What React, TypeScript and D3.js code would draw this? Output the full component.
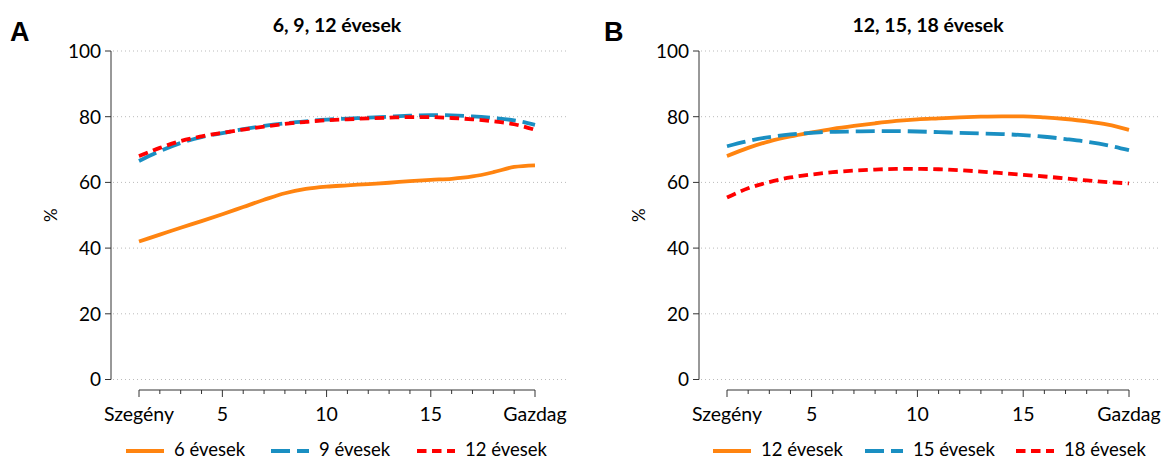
import React from "react";
import * as d3 from "d3";

const groups = [1, 2, 3, 4, 5, 6, 7, 8, 9, 10, 11, 12, 13, 14, 15, 16, 17, 18, 19, 20];
const xTickValues = [1, 5, 10, 15, 20];
const xTickLabels = ["Szegény", "5", "10", "15", "Gazdag"];
const yTicks = [0, 20, 40, 60, 80, 100];

// Panel A
const a6 = [42, 44.1, 46.2, 48.2, 50.3, 52.5, 54.7, 56.7, 58, 58.7, 59.1, 59.5, 59.9, 60.4, 60.8, 61.1, 61.8, 63.1, 64.7, 65.2];
const a9 = [66.5, 69.5, 72, 73.8, 75, 76.2, 77.2, 78, 78.6, 79.1, 79.4, 79.7, 80, 80.3, 80.5, 80.4, 80.1, 79.6, 78.9, 77.5];
const a12 = [68, 70.5, 72.6, 74, 75.1, 76.1, 77, 77.8, 78.4, 78.9, 79.2, 79.5, 79.7, 79.9, 79.9, 79.6, 79.2, 78.6, 77.7, 76];
// Panel B
const b12 = [68, 70.5, 72.5, 74, 75.2, 76.3, 77.2, 78, 78.7, 79.2, 79.5, 79.8, 80, 80.1, 80.1, 79.8, 79.3, 78.6, 77.6, 76];
const b15 = [71, 72.6, 73.8, 74.6, 75.1, 75.4, 75.5, 75.6, 75.6, 75.5, 75.3, 75.1, 74.9, 74.7, 74.4, 73.9, 73.2, 72.4, 71.3, 69.8];
const b18 = [55.4, 58.2, 60.1, 61.5, 62.4, 63.1, 63.6, 63.9, 64.1, 64.1, 64, 63.7, 63.3, 62.8, 62.3, 61.8, 61.2, 60.6, 60.1, 59.7];

const ORANGE = "#ff8410";
const BLUE = "#1a8fc2";
const RED = "#ff0000";

type Series = { name: string; values: number[]; color: string; dash: string | null };

const panelA: Series[] = [
  { name: "6 évesek", values: a6, color: ORANGE, dash: null },
  { name: "9 évesek", values: a9, color: BLUE, dash: "19 7" },
  { name: "12 évesek", values: a12, color: RED, dash: "9.5 5.5" },
];
const panelB: Series[] = [
  { name: "12 évesek", values: b12, color: ORANGE, dash: null },
  { name: "15 évesek", values: b15, color: BLUE, dash: "19 7" },
  { name: "18 évesek", values: b18, color: RED, dash: "9.5 5.5" },
];

const FONT = "Lato, 'Open Sans', sans-serif";

type PanelProps = {
  letter: string;
  title: string;
  series: Series[];
  axisX: number;
  x0: number;
  x1: number;
  gridEnd: number;
  letterX: number;
  legendLineX: number[];
};

function Panel({ letter, title, series, axisX, x0, x1, gridEnd, letterX, legendLineX }: PanelProps) {
  const x = d3.scaleLinear().domain([1, 20]).range([x0, x1]);
  const y = d3.scaleLinear().domain([0, 100]).range([379.5, 51]);
  const line = d3
    .line<number>()
    .x((_, i) => x(groups[i]))
    .y((d) => y(d))
    .curve(d3.curveMonotoneX);
  const axisY = 390;
  return (
    <g>
      <text x={letterX} y={41} fontFamily="Arial, 'Liberation Sans', sans-serif" fontWeight="bold" fontSize={27} fill="#000">
        {letter}
      </text>
      <text x={(x0 + x1) / 2} y={32} textAnchor="middle" fontFamily={FONT} fontWeight="bold" fontSize={19.5} fill="#000">
        {title}
      </text>
      {yTicks.map((t) => (
        <g key={t}>
          <line x1={axisX + 2} x2={gridEnd} y1={y(t)} y2={y(t)} stroke="#bbb" strokeWidth={1} strokeDasharray="1 3" />
          <line x1={axisX - 6} x2={axisX} y1={y(t)} y2={y(t)} stroke="#333" strokeWidth={1} />
          <text x={axisX - 10} y={y(t)} dy="0.36em" textAnchor="end" fontFamily={FONT} fontSize={19} fill="#000">
            {t}
          </text>
        </g>
      ))}
      <line x1={axisX} x2={axisX} y1={y(100)} y2={y(0)} stroke="#333" strokeWidth={1} />
      <text
        transform={`translate(${axisX - 60},${y(50)}) rotate(-90)`}
        textAnchor="middle"
        dy="0.35em"
        fontFamily={FONT}
        fontSize={17}
        fill="#000"
      >
        %
      </text>
      <line x1={x(1)} x2={x(20)} y1={axisY} y2={axisY} stroke="#333" strokeWidth={1} />
      {groups.map((g) => {
        const major = xTickValues.includes(g);
        return <line key={g} x1={x(g)} x2={x(g)} y1={axisY} y2={axisY + (major ? 7 : 4)} stroke="#333" strokeWidth={1} />;
      })}
      {xTickValues.map((v, i) => (
        <text key={v} x={x(v)} y={421} textAnchor="middle" fontFamily={FONT} fontSize={19.5} fill="#000">
          {xTickLabels[i]}
        </text>
      ))}
      {series.map((s) => (
        <path
          key={s.name}
          d={line(s.values) || ""}
          fill="none"
          stroke={s.color}
          strokeWidth={3.8}
          strokeDasharray={s.dash || undefined}
        />
      ))}
      {series.map((s, i) => (
        <g key={"lg" + s.name}>
          <line
            x1={legendLineX[i]}
            x2={legendLineX[i] + 38}
            y1={451}
            y2={451}
            stroke={s.color}
            strokeWidth={4}
            strokeDasharray={s.dash || undefined}
          />
          <text x={legendLineX[i] + 48} y={456} fontFamily={FONT} fontSize={18.5} fill="#000">
            {s.name}
          </text>
        </g>
      ))}
    </g>
  );
}

export default function App() {
  return (
    <svg width={1161} height={462} style={{ position: "absolute", left: 0, top: 0, background: "#fff" }}>
      <rect width={1161} height={462} fill="#fff" />
      <Panel
        letter="A"
        title="6, 9, 12 évesek"
        series={panelA}
        axisX={111}
        x0={139}
        x1={535}
        gridEnd={566}
        letterX={10}
        legendLineX={[126, 271, 417]}
      />
      <Panel
        letter="B"
        title="12, 15, 18 évesek"
        series={panelB}
        axisX={699}
        x0={727}
        x1={1129}
        gridEnd={1161}
        letterX={604}
        legendLineX={[713, 865, 1016]}
      />
    </svg>
  );
}
